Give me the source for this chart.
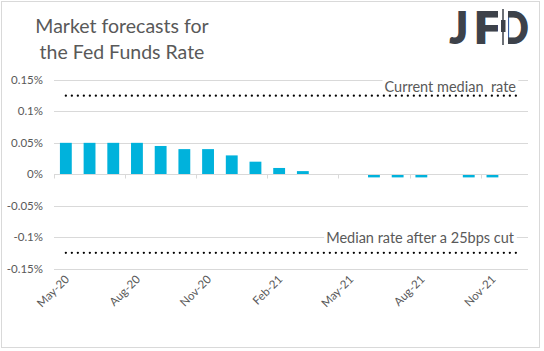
<!DOCTYPE html>
<html>
<head>
<meta charset="utf-8">
<script src="https://cdn.jsdelivr.net/npm/d3@7"></script>
<style>
  body { margin: 0; background: #fff; }
  text { font-family: Lato, 'Open Sans', sans-serif; }
</style>
</head>
<body>
<div id="chart"></div>
<script>
// chart data
const months = ['May-20', 'Jun-20', 'Jul-20', 'Aug-20', 'Sep-20', 'Oct-20', 'Nov-20', 'Dec-20',
  'Jan-21', 'Feb-21', 'Mar-21', 'Apr-21', 'May-21', 'Jun-21', 'Jul-21', 'Aug-21', 'Sep-21',
  'Oct-21', 'Nov-21', 'Dec-21']
const forecasts = [0.05, 0.05, 0.05, 0.05, 0.045, 0.04, 0.04, 0.03, 0.02, 0.01, 0.005, 0, 0,
  -0.005, -0.005, -0.005, 0, -0.005, -0.005, 0]
const currentMedian = months.map(() => 0.125)
const cutMedian = months.map(() => -0.125)
const yTicks = [0.15, 0.1, 0.05, 0, -0.05, -0.1, -0.15]
const yTickLabels = ['0.15%', '0.1%', '0.05%', '0%', '-0.05%', '-0.1%', '-0.15%']

const width = 544,
  height = 351,
  grey = '#595959',
  gridColor = '#d9d9d9'

const svg = d3
  .select('#chart')
  .append('svg')
  .attr('width', width)
  .attr('height', height)

// outer frame
svg
  .append('rect')
  .attr('x', 1.5)
  .attr('y', 1.5)
  .attr('width', 538)
  .attr('height', 346)
  .attr('fill', '#fff')
  .attr('stroke', gridColor)

const x = d3
  .scaleBand()
  .domain(months)
  .range([54, 528])
  .paddingInner(0.5)
  .paddingOuter(0.25)

const y = d3
  .scaleLinear()
  .domain([-0.15, 0.15])
  .range([268.5, 80])

// gridlines
svg
  .append('g')
  .selectAll('line')
  .data(yTicks)
  .enter()
  .append('line')
  .attr('x1', 54)
  .attr('x2', 528)
  .attr('y1', d => Math.round(y(d)) + 0.5)
  .attr('y2', d => Math.round(y(d)) + 0.5)
  .attr('stroke', gridColor)

// y labels
svg
  .append('g')
  .selectAll('text')
  .data(yTicks)
  .enter()
  .append('text')
  .attr('x', 43)
  .attr('y', d => y(d))
  .attr('dy', '0.35em')
  .attr('text-anchor', 'end')
  .attr('font-size', 11.5)
  .attr('fill', grey)
  .text((d, i) => yTickLabels[i])

// bars
svg
  .append('g')
  .selectAll('rect')
  .data(forecasts)
  .enter()
  .append('rect')
  .attr('x', (d, i) => x(months[i]))
  .attr('width', x.bandwidth())
  .attr('y', d => y(Math.max(0, d)))
  .attr('height', d => Math.abs(y(d) - y(0)))
  .attr('fill', '#00b2dc')

// zero axis with tick marks every 3 months
const zeroY = Math.round(y(0)) + 0.5
const gap = (x.step() - x.bandwidth()) / 2
svg
  .append('line')
  .attr('x1', 54)
  .attr('x2', 528)
  .attr('y1', zeroY)
  .attr('y2', zeroY)
  .attr('stroke', gridColor)

const tickMonths = months.filter((d, i) => i % 3 === 0)
svg
  .append('g')
  .selectAll('line')
  .data(tickMonths)
  .enter()
  .append('line')
  .attr('x1', d => Math.round(x(d) - gap) + 0.5)
  .attr('x2', d => Math.round(x(d) - gap) + 0.5)
  .attr('y1', zeroY)
  .attr('y2', zeroY + 4)
  .attr('stroke', gridColor)

// x labels, rotated
svg
  .append('g')
  .selectAll('text')
  .data(tickMonths)
  .enter()
  .append('text')
  .attr('text-anchor', 'end')
  .attr('font-size', 11.5)
  .attr('fill', grey)
  .attr('transform', d =>
    'translate(' + (x(d) + x.bandwidth() / 2 + 4) + ',' + 280 + ')rotate(-45)'
  )
  .text(d => d)

// dotted reference lines
const line = d3
  .line()
  .x((d, i) => x(months[i]) + x.bandwidth() / 2)
  .y(d => y(d))

;[currentMedian, cutMedian].forEach(series => {
  svg
    .append('path')
    .attr('d', line(series))
    .attr('fill', 'none')
    .attr('stroke', '#000')
    .attr('stroke-width', 2.3)
    .attr('stroke-linecap', 'round')
    .attr('stroke-dasharray', '0,6')
})

// line labels on white boxes
function lineLabel(txt, xr, yb) {
  const g = svg.append('g')
  const bg = g.append('rect').attr('fill', '#fff')
  const t = g
    .append('text')
    .attr('x', xr)
    .attr('y', yb)
    .attr('text-anchor', 'end')
    .attr('font-size', 14.5)
    .attr('fill', grey)
    .style('white-space', 'pre')
    .text(txt)
  const b = t.node().getBBox()
  bg.attr('x', b.x - 2)
    .attr('y', b.y + 2)
    .attr('width', b.width + 4)
    .attr('height', b.height - 4)
}
lineLabel('Current median  rate', 516, 92)
lineLabel('Median rate after a 25bps cut', 514, 243)

// title
const title = svg
  .append('text')
  .attr('text-anchor', 'middle')
  .attr('font-size', 19.5)
  .attr('fill', grey)
title
  .append('tspan')
  .attr('x', 122)
  .attr('y', 33)
  .text('Market forecasts for')
title
  .append('tspan')
  .attr('x', 122)
  .attr('y', 59)
  .text('the Fed Funds Rate')

// logo
const logoColor = '#3d424a'
const logoLetters = ['J', 'F', 'D']
const logoX = [450, 474, 500]
const logoSx = [1.1, 1.25, 0.98]
svg
  .append('g')
  .selectAll('text')
  .data(logoLetters)
  .enter()
  .append('text')
  .attr('transform', (d, i) => 'translate(' + logoX[i] + ',43)scale(' + logoSx[i] + ',1.12)')
  .attr('font-family', 'Roboto, sans-serif')
  .attr('font-weight', 700)
  .attr('font-size', 38)
  .attr('fill', logoColor)
  .attr('stroke', logoColor)
  .attr('stroke-width', 1.6)
  .text(d => d)
// candlestick replacing the D stem
svg
  .append('rect')
  .attr('x', 498)
  .attr('y', 8)
  .attr('width', 10)
  .attr('height', 38)
  .attr('fill', '#fff')
svg
  .append('line')
  .attr('x1', 503)
  .attr('x2', 503)
  .attr('y1', 9)
  .attr('y2', 45)
  .attr('stroke', logoColor)
  .attr('stroke-width', 1.5)
svg
  .append('rect')
  .attr('x', 501)
  .attr('y', 20)
  .attr('width', 4.5)
  .attr('height', 12)
  .attr('fill', logoColor)
</script>
</body>
</html>
